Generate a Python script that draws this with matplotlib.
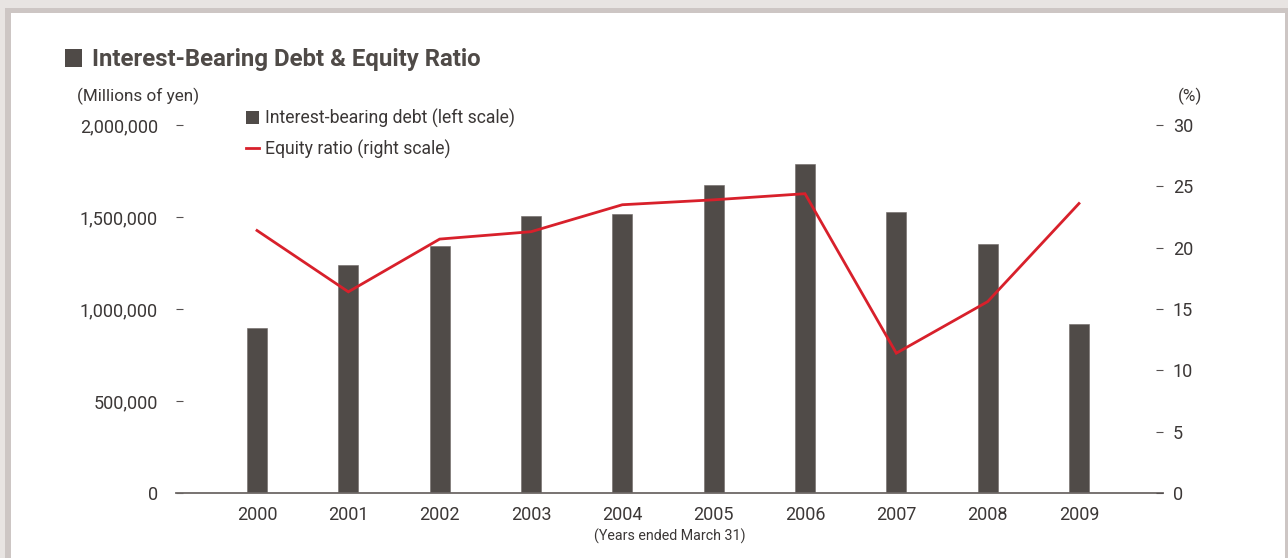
import matplotlib
matplotlib.use("Agg")
import matplotlib.pyplot as plt
from matplotlib.patches import Rectangle, Patch
from matplotlib.lines import Line2D
import numpy as np

# Data
years = ["2000", "2001", "2002", "2003", "2004", "2005", "2006", "2007", "2008", "2009"]
debt = [895000, 1239000, 1342000, 1505000, 1516000, 1674000, 1788000, 1527000, 1353000, 918000]
equity_ratio = [21.4, 16.4, 20.7, 21.3, 23.5, 23.9, 24.4, 11.4, 15.6, 23.6]
left_ticks = [0, 500000, 1000000, 1500000, 2000000]
right_ticks = [0, 5, 10, 15, 20, 25, 30]

W, H = 1288, 558
DPI = 100
FONT = "Roboto"
TEXT = "#3b3736"
BAR = "#504b48"
RED = "#d8202b"

plt.rcParams["font.family"] = [FONT, "DejaVu Sans"]

fig = plt.figure(figsize=(W / DPI, H / DPI), dpi=DPI)
fig.patch.set_facecolor("#e8e4e2")


def px_rect(x0, y0, x1, y1, color):
    """Rectangle given in pixel coordinates measured from the top-left corner."""
    fig.patches.append(Rectangle((x0 / W, 1 - y1 / H), (x1 - x0) / W, (y1 - y0) / H,
                                 transform=fig.transFigure, facecolor=color,
                                 edgecolor="none", zorder=-10))


# Panel frame
px_rect(5, 8, W, H, "#cdc6c4")
px_rect(11, 13, 1285, H, "white")

# Plot area
ax_l, ax_r, ax_b, ax_t = 176, 1163, 493, 125
ax = fig.add_axes([ax_l / W, 1 - ax_b / H, (ax_r - ax_l) / W, (ax_b - ax_t) / H])
ax.set_facecolor("none")

x = np.arange(len(years))
ax.bar(x, debt, width=0.22, color=BAR, edgecolor="#6e6865", linewidth=0.4, zorder=2)
ax.set_xlim(-0.887, 9.92)
ax.set_ylim(0, 2000000)
ax.set_yticks(left_ticks)
ax.set_yticklabels([f"{v:,}" for v in left_ticks])
ax.set_xticks(x)
ax.set_xticklabels(years)

for s in ["top", "left", "right"]:
    ax.spines[s].set_visible(False)
ax.spines["bottom"].set_color("#6d6866")
ax.spines["bottom"].set_linewidth(1.3)

ax.tick_params(axis="y", direction="in", length=4.8, width=0.8, color="#555050",
               pad=13, labelsize=13, labelcolor=TEXT)
ax.tick_params(axis="x", length=0, pad=9, labelsize=13, labelcolor=TEXT)

ax2 = ax.twinx()
ax2.plot(x, equity_ratio, color=RED, linewidth=2.0, solid_joinstyle="miter", zorder=3)
ax2.set_ylim(0, 30)
ax2.set_yticks(right_ticks)
for s in ["top", "left", "right", "bottom"]:
    ax2.spines[s].set_visible(False)
ax2.tick_params(axis="y", direction="in", length=4.8, width=0.8, color="#555050",
                pad=7, labelsize=13, labelcolor=TEXT)

# Title with square marker
px_rect(65, 49, 82, 67, "#4f4a47")
fig.text(92 / W, 1 - 59 / H, "Interest-Bearing Debt & Equity Ratio", ha="left", va="center",
         fontsize=17.3, fontweight="bold", color="#4f4a47")

# Unit labels
fig.text(77 / W, 1 - 96 / H, "(Millions of yen)", ha="left", va="center",
         fontsize=12.3, color=TEXT)
fig.text(1202 / W, 1 - 96 / H, "(%)", ha="right", va="center",
         fontsize=12.3, color=TEXT)
fig.text(669.5 / W, 1 - 536 / H, "(Years ended March 31)", ha="center", va="center",
         fontsize=10.3, color=TEXT)

# Legend
handles = [Patch(facecolor=BAR, edgecolor="none"),
           Line2D([0], [0], color=RED, linewidth=2.0)]
labels = ["Interest-bearing debt (left scale)", "Equity ratio (right scale)"]
fig.legend(handles, labels, loc="upper left", bbox_to_anchor=(246 / W, 1 - 109 / H),
           bbox_transform=fig.transFigure, frameon=False, fontsize=12.7,
           handlelength=0.72, handleheight=0.72, handletextpad=0.33,
           labelspacing=0.66, borderpad=0, borderaxespad=0, labelcolor=TEXT)

fig.savefig("out.png", dpi=DPI)
